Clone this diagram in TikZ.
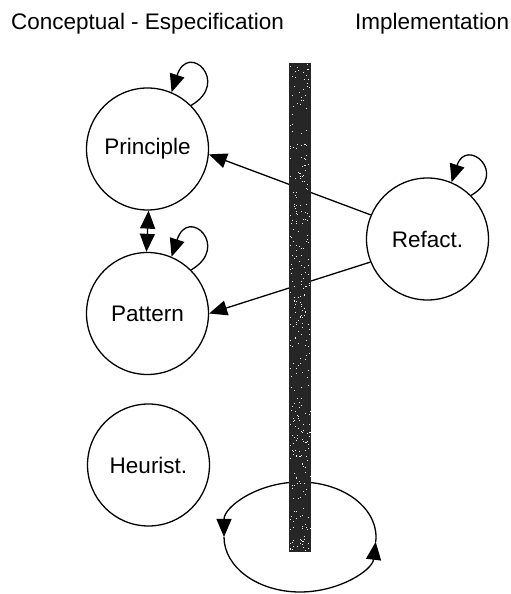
\documentclass[tikz,border=0pt]{standalone}
\usepackage{fontspec}
\setmainfont{Liberation Sans}
\usetikzlibrary{arrows.meta}
\begin{document}
\begin{tikzpicture}[x=1pt,y=1pt,
  state/.style={circle,draw,line width=1.3pt,minimum size=122pt,inner sep=0pt,
                font=\fontsize{22.5}{26}\selectfont},
  heading/.style={anchor=base west,inner sep=0pt,font=\fontsize{22.5}{26}\selectfont},
  tip/.tip={Triangle[length=18pt,width=15pt]},
  link/.style={line width=1.3pt,-tip},
  twoway/.style={line width=1.3pt,tip-tip},
  selfloop/.style={line width=1.3pt,-tip}]
\useasboundingbox (0,0) rectangle (511,594);

% column headings
\node[heading] (hconc) at (11,564) {Conceptual - Especification};
\node[heading] (himpl) at (355,564) {Implementation};

% states
\node[state] (pr) at (147.5,445) {Principle};
\node[state] (pt) at (147.5,280.5) {Pattern};
\node[state] (he) at (148.5,129) {Heurist.};
\node[state] (rf) at (427.5,355) {Refact.};

% self loops
\draw[selfloop] (pr.45) .. controls +(30:46) and +(72:54) .. (pr.67);
\draw[selfloop] (pt.45) .. controls +(30:46) and +(72:54) .. (pt.67);
\draw[selfloop] (rf.45) .. controls +(30:44) and +(72:48) .. (rf.67);

% relations
\draw[twoway] (pr.-89) -- (pt.91);
\draw[link] (rf.157) -- (pr.-5);
\draw[link] (rf.202) -- (pt.0);

% cycle at the foot of the divider
\coordinate (ctop) at (300,112);
\coordinate (cleft) at (224,57);
\coordinate (cright) at (375.71,52.21);
\draw[link] (ctop) arc[start angle=90,end angle=180,x radius=76,y radius=55];
\draw[link] (cleft) arc[start angle=180,end angle=355,x radius=76,y radius=55];
\draw[line width=1.3pt] (cright) arc[start angle=-5,end angle=90,x radius=76,y radius=55];

% divider bar with grainy texture
\fill[black!85] (289,42) rectangle (311,531);
\pgfmathsetseed{11}
\foreach \k in {1,...,320}{
  \pgfmathsetmacro\sx{289.5+20.5*rnd}
  \pgfmathsetmacro\sy{42.5+487*rnd}
  \fill[white] (\sx,\sy) rectangle ++(0.9,0.9);
}
\end{tikzpicture}
\end{document}
